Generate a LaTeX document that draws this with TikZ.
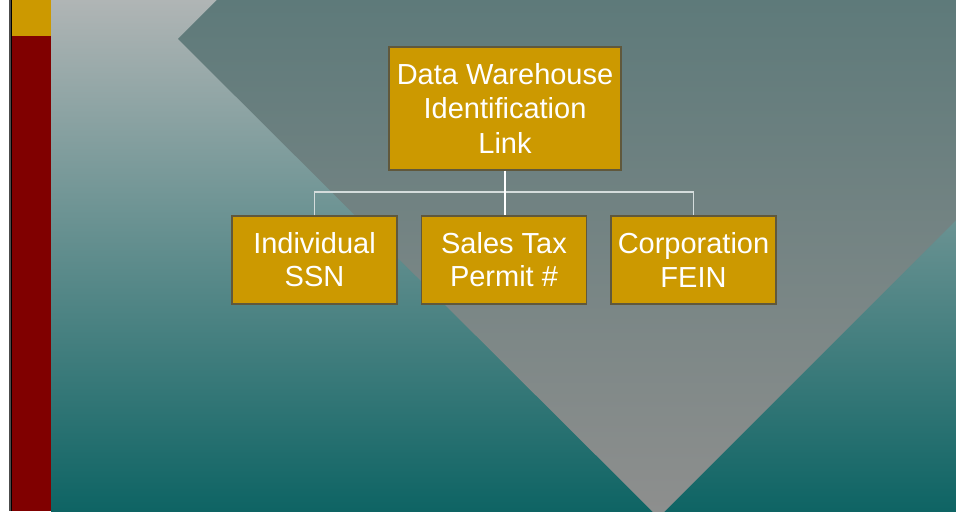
\documentclass[tikz,border=0pt]{standalone}
\usepackage{fontspec}
\setmainfont{Liberation Sans}
\usepackage{tikz}
\usetikzlibrary{positioning}

\definecolor{bgtop}{RGB}{176,181,181}
\definecolor{bgbottom}{RGB}{14,100,100}
\definecolor{kitetop}{RGB}{94,122,122}
\definecolor{kitebottom}{RGB}{142,143,142}
\definecolor{barred}{RGB}{128,0,0}
\definecolor{gold}{RGB}{204,153,0}
\definecolor{boxedge}{RGB}{96,88,60}
\definecolor{busline}{RGB}{212,220,220}

\begin{document}
\begin{tikzpicture}[scale=1,
    idbox/.style={draw=boxedge, line width=0.6pt, fill=gold, text=white, align=center,
        inner sep=0pt, font=\fontsize{16.5}{18.8}\selectfont},
    bus/.style={draw=busline, line width=0.8pt}]

    \useasboundingbox (0,0) rectangle (19.12,10.22);

    % background and left bar
    \shade[top color=bgtop, bottom color=bgbottom] (1.02,0) rectangle (19.12,10.22);
    \path[fill=black!70] (0.18,0) rectangle (0.21,10.22);
    \path[fill=black] (0.21,0) rectangle (0.24,10.22);
    \path[fill=barred] (0.24,0) rectangle (1.02,10.22);
    \path[fill=gold] (0.24,9.5) rectangle (1.02,10.22);

    % grey kite
    \coordinate (kl) at (3.56,9.44);
    \coordinate (kt) at (4.34,10.22);
    \coordinate (kr) at (19.12,5.82);
    \coordinate (kb) at (13.17,-0.13);
    \begin{scope}
        \clip (0,0) rectangle (19.12,10.22);
        \shade[top color=kitetop, bottom color=kitebottom] (kl) -- (kt) -- (19.12,10.22) -- (kr) -- (kb) -- cycle;
    \end{scope}

    \node[idbox, minimum width=4.64cm, minimum height=2.46cm, font=\fontsize{16.5}{19.6}\selectfont] (link) at (10.10,8.05) {Data Warehouse\\Identification\\Link};

    \node[idbox, minimum width=3.3cm, minimum height=1.76cm] (ssn) at (6.29,5.02) {Individual\\SSN};
    \node[idbox, minimum width=3.3cm, minimum height=1.76cm] (permit) at (10.08,5.02) {Sales Tax\\Permit \#};
    \node[idbox, minimum width=3.3cm, minimum height=1.76cm] (fein) at (13.87,5.02) {Corporation\\FEIN};

    \coordinate (hub) at (10.10,6.38);
    \path[bus] (ssn.north) |- (hub) -| (fein.north);
    \path[draw=white, line width=0.8pt] (link.south) -- (link.south |- permit.north);

\end{tikzpicture}
\end{document}
